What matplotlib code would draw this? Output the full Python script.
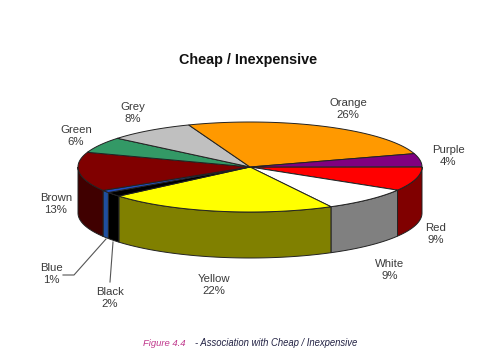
import numpy as np
import matplotlib
matplotlib.use('Agg')
import matplotlib.pyplot as plt
from matplotlib.patches import Polygon

# clockwise from the right hand edge of the pie
names = ['Red', 'White', 'Yellow', 'Black', 'Blue', 'Brown', 'Green', 'Grey', 'Orange', 'Purple']
percents = [9, 9, 22, 2, 1, 13, 6, 8, 26, 4]
# shares as drawn, estimated from the slice edges (labels are rounded)
shares = [8.6, 8.6, 21.6, 1.6, 0.9, 14.0, 5.7, 8.2, 26.0, 4.7]
top_colors = ['#ff0000', '#ffffff', '#ffff00', '#000000', '#1f4fc0',
              '#800000', '#339966', '#c0c0c0', '#ff9900', '#800080']
side_colors = ['#800000', '#808080', '#808000', '#000000', '#1f4f9f',
               '#400000', '#1a4d33', '#606060', '#804d00', '#400040']
label_pos = [(436, 234), (390, 270), (214, 285), (110, 298), (51, 274),
             (56, 204), (76, 136), (133, 113), (348, 109), (448, 156)]

cx, cy, rx, ry, depth = 250, 167, 172, 45, 46
edge = '#222222'

plt.rcParams['font.family'] = ['Liberation Sans', 'DejaVu Sans']

fig = plt.figure(figsize=(4.86, 3.64), dpi=100)
ax = fig.add_axes([0, 0, 1, 1])
ax.set_xlim(0, 486)
ax.set_ylim(364, 0)
ax.axis('off')


def rim(a0, a1):
    t = np.radians(np.linspace(a0, a1, max(int(abs(a1 - a0)) * 2, 2)))
    return cx + rx * np.cos(t), cy + ry * np.sin(t)


ends = np.cumsum(shares) * 3.6
starts = np.concatenate([[0], ends[:-1]])

# side walls, only the front half can be seen
for a0, a1, col in zip(starts, ends, side_colors):
    a1 = min(a1, 180)
    if a0 >= 180:
        continue
    x, y = rim(a0, a1)
    px = np.concatenate([x, x[::-1]])
    py = np.concatenate([y, y[::-1] + depth])
    ax.add_patch(Polygon(np.column_stack([px, py]), facecolor=col, edgecolor=edge, lw=0.7, zorder=2))

# top face
for a0, a1, col in zip(starts, ends, top_colors):
    x, y = rim(a0, a1)
    px = np.concatenate([[cx], x])
    py = np.concatenate([[cy], y])
    ax.add_patch(Polygon(np.column_stack([px, py]), facecolor=col, edgecolor=edge, lw=0.7, zorder=3))

for name, pct, (lx, ly) in zip(names, percents, label_pos):
    ax.text(lx, ly, f'{name}\n{pct}%', ha='center', va='center', fontsize=8.2,
            color='#3a3a3a', linespacing=1.25, zorder=5)

# leader lines for the thin slices
ax.plot([106, 74, 63], [239, 275, 275], color='#555555', lw=0.8, zorder=4)
ax.plot([113, 110], [242, 282], color='#555555', lw=0.8, zorder=4)

ax.text(248, 60, 'Cheap / Inexpensive', ha='center', va='center', fontsize=10.4,
        fontweight='bold', color='#111111')

ax.text(143, 343, 'Figure 4.4', ha='left', va='center', fontsize=6.8, style='italic', color='#c0388c')
ax.text(195, 343, '- Association with Cheap / Inexpensive', ha='left', va='center',
        fontsize=6.85, style='italic', color='#222244')

fig.savefig('out.png', dpi=100, facecolor='white')
